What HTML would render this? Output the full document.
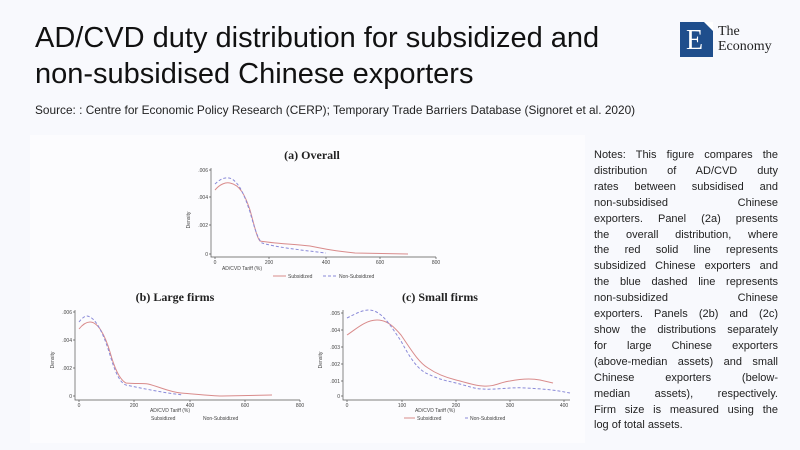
<!DOCTYPE html>
<html><head><meta charset="utf-8"><style>
body{margin:0;width:800px;height:450px;background:#f8f9fd;overflow:hidden;position:relative;font-family:"Liberation Sans",sans-serif}
.t{position:absolute;left:35px;top:20px;font-size:29px;line-height:36px;color:#111;}
.s{position:absolute;left:35px;top:103px;font-size:11.85px;color:#222}
.n{position:absolute;left:594px;top:148px;width:184px;font-size:11px;line-height:15.9px;color:#222}
.n div{text-align:justify;text-align-last:justify;white-space:nowrap}
.n div.l{text-align-last:left}
</style></head><body>
<div class="t">AD/CVD duty distribution for subsidized and<br>non-subsidised Chinese exporters</div>
<div class="s">Source: : Centre for Economic Policy Research (CERP); Temporary Trade Barriers Database (Signoret et al. 2020)</div>
<div style="position:absolute;left:680px;top:22px;width:33px;height:35px;background:#1f4e8c"></div>
<div style="position:absolute;left:704px;top:22px;width:0;height:0;border-top:9px solid #fff;border-left:9px solid transparent"></div>
<div style="position:absolute;left:686px;top:25px;font-family:'Liberation Serif',serif;font-size:28px;color:#fff">E</div>
<div style="position:absolute;left:718px;top:24px;font-family:'Liberation Serif',serif;font-size:14px;line-height:15px;color:#222">The<br>Economy</div>
<svg width="800" height="450" style="position:absolute;left:0;top:0" font-family="Liberation Sans,sans-serif">
<rect x="30" y="135" width="555" height="308" fill="#fcfcfe"/>
<g font-family="Liberation Serif,serif" font-weight="bold" font-size="12" fill="#222" text-anchor="middle">
<text x="312" y="159">(a) Overall</text><text x="175" y="301">(b) Large firms</text><text x="440" y="301">(c) Small firms</text></g>
<g stroke="#555" stroke-width="0.7" fill="none">
<path d="M211,168V257H436M215,257v2M269,257v2M326,257v2M380,257v2M436,257v2M211,254h-2M211,225h-2M211,197h-2M211,170h-2"/>
<path d="M75,310V400H300M79,400v2M134,400v2M190,400v2M245,400v2M300,400v2M75,396h-2M75,368h-2M75,340h-2M75,312h-2"/>
<path d="M343,310V400H570M347,400v2M402,400v2M456,400v2M510,400v2M564,400v2M343,396h-2M343,381h-2M343,364h-2M343,347h-2M343,330h-2M343,313h-2"/>
</g>
<g font-size="5" fill="#444" text-anchor="middle">
<text x="215" y="264">0</text><text x="269" y="264">200</text><text x="326" y="264">400</text><text x="380" y="264">600</text><text x="436" y="264">800</text>
<text x="242" y="270">AD/CVD Tariff (%)</text>
<text x="79" y="407">0</text><text x="134" y="407">200</text><text x="190" y="407">400</text><text x="245" y="407">600</text><text x="300" y="407">800</text>
<text x="170" y="412">AD/CVD Tariff (%)</text>
<text x="347" y="407">0</text><text x="402" y="407">100</text><text x="456" y="407">200</text><text x="510" y="407">300</text><text x="564" y="407">400</text>
<text x="435" y="412">AD/CVD Tariff (%)</text>
<g text-anchor="end"><text x="208" y="256">0</text><text x="208" y="227">.002</text><text x="208" y="199">.004</text><text x="208" y="172">.006</text>
<text x="72" y="398">0</text><text x="72" y="370">.002</text><text x="72" y="342">.004</text><text x="72" y="314">.006</text>
<text x="340" y="398">0</text><text x="340" y="383">.001</text><text x="340" y="366">.002</text><text x="340" y="349">.003</text><text x="340" y="332">.004</text><text x="340" y="315">.005</text></g>
<text transform="translate(190,220) rotate(-90)">Density</text>
<text transform="translate(54,360) rotate(-90)">Density</text>
<text transform="translate(322,360) rotate(-90)">Density</text>
<g text-anchor="start"><text x="288" y="278">Subsidized</text><text x="339" y="278">Non-Subsidized</text>
<text x="151" y="420">Subsidized</text><text x="203" y="420">Non-Subsidized</text>
<text x="417" y="420">Subsidized</text><text x="470" y="420">Non-Subsidized</text></g>
</g>
<g fill="none" stroke-width="1">
<path stroke="#d98b8b" d="M273,276h13M404,418h11"/>
<path stroke="#8a8ad8" stroke-dasharray="3,2" d="M323,276h13M465,418h3"/>
<path stroke="#d98b8b" d="M215,190C220,184 226,182 230,183C240,185 245,195 250,210C255,228 257,238 260,241C270,243 290,244 310,246C325,249 335,251 355,253L408,254"/>
<path stroke="#8a8ad8" stroke-dasharray="3,2" d="M215,184C220,179 226,176 232,179C240,184 245,197 250,212C255,230 258,239 262,243C275,247 300,250 326,253"/>
<path stroke="#d98b8b" d="M79,329C83,324 87,322 90,322C98,322 105,335 110,352C115,370 120,380 126,383C135,384 142,383 148,384C160,387 170,392 181,393C195,394 210,396 222,396L272,395"/>
<path stroke="#8a8ad8" stroke-dasharray="3,2" d="M79,322C82,318 85,316 87,316C96,317 104,335 110,355C115,372 120,383 126,385C145,389 165,393 183,395"/>
<path stroke="#d98b8b" d="M347,335C355,330 365,320 377,320C388,320 395,328 401,335C410,348 418,362 428,368C438,375 448,378 456,380C468,383 476,386 483,386C495,387 500,382 510,381C520,379 530,378 540,380L553,383"/>
<path stroke="#8a8ad8" stroke-dasharray="3,2" d="M347,318C355,314 362,310 369,310C382,310 392,328 401,341C410,358 418,370 428,374C440,380 448,381 456,383C468,386 475,389 483,389C495,390 510,387 526,388C545,389 555,390 570,393"/>
</g>
</svg>
<div class="n">
<div>Notes: This figure compares the</div><div>distribution of AD/CVD duty</div><div>rates between subsidised and</div><div>non-subsidised Chinese</div><div>exporters. Panel (2a) presents</div><div>the overall distribution, where</div><div>the red solid line represents</div><div>subsidized Chinese exporters and</div><div>the blue dashed line represents</div><div>non-subsidized Chinese</div><div>exporters. Panels (2b) and (2c)</div><div>show the distributions separately</div><div>for large Chinese exporters</div><div>(above-median assets) and small</div><div>Chinese exporters (below-</div><div>median assets), respectively.</div><div>Firm size is measured using the</div><div class="l">log of total assets.</div>
</div>
</body></html>
